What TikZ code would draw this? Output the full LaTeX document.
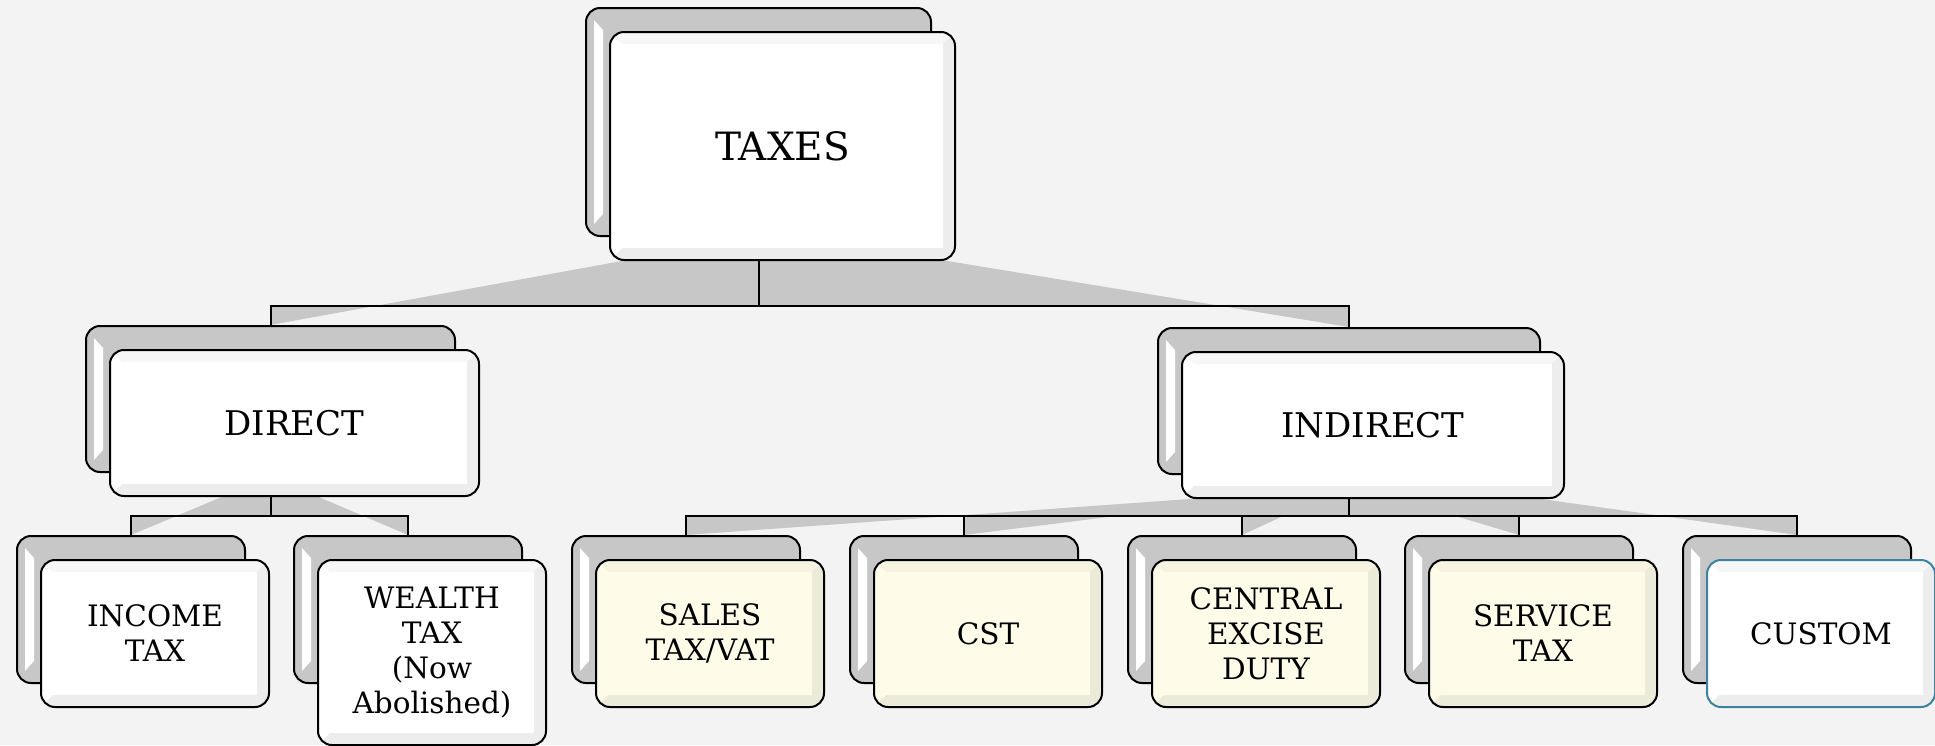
\documentclass[tikz,border=0pt]{standalone}
\usepackage{fontspec}
\setmainfont{DejaVu Serif}
\usepackage{tikz}
\usetikzlibrary{positioning, calc, backgrounds}

\definecolor{paper}{RGB}{243,243,243}
\definecolor{cream}{RGB}{254,252,233}
\definecolor{custedge}{RGB}{60,130,158}
\tikzstyle{link}=[line width=2pt, color=black]
\tikzstyle{wedgefill}=[fill=black!22]

\begin{document}
\begin{tikzpicture}[x=1pt, y=-1pt,
  backbox/.style={rectangle, rounded corners=14pt, draw=black, line width=2pt,
                  fill=black!22, anchor=north west, inner sep=0pt,
                  path picture={
                    \fill[white, sharp corners]
                      ([shift={(8pt,-12pt)}]path picture bounding box.north west) --
                      ([shift={(17pt,-22pt)}]path picture bounding box.north west) --
                      ([shift={(17pt,22pt)}]path picture bounding box.south west) --
                      ([shift={(8pt,12pt)}]path picture bounding box.south west) -- cycle;
                  }},
  frontbox/.style={rectangle, rounded corners=14pt, draw=black, line width=2pt,
                   fill=white, align=center, inner sep=0pt,
                   path picture={
                     \fill[black, opacity=.07, sharp corners]
                       (path picture bounding box.south west) --
                       (path picture bounding box.south east) --
                       (path picture bounding box.north east) --
                       ([shift={(-12pt,-12pt)}]path picture bounding box.north east) --
                       ([shift={(-12pt,12pt)}]path picture bounding box.south east) --
                       ([shift={(12pt,12pt)}]path picture bounding box.south west) -- cycle;
                     \fill[black, opacity=.03, sharp corners]
                       (path picture bounding box.north west) --
                       (path picture bounding box.north east) --
                       ([shift={(-12pt,-12pt)}]path picture bounding box.north east) --
                       ([shift={(12pt,-12pt)}]path picture bounding box.north west) -- cycle;
                   }},
  lvlone/.style={minimum width=345pt, minimum height=228pt,
                 font=\fontsize{39}{46}\selectfont},
  lvltwo/.style={minimum height=146pt, font=\fontsize{34}{40}\selectfont},
  leaf/.style={minimum width=228pt, minimum height=147pt,
               font=\fontsize{29.5}{35}\selectfont}
]
\useasboundingbox (0,0) rectangle (1935,745);

% Level 1
\node[backbox, lvlone] (taxes-bk) at (585,7) {};
\node[frontbox, lvlone, below right=24pt and 24pt of taxes-bk.north west] (taxes) {TAXES};

% Level 2
\node[backbox, lvltwo, minimum width=369pt] (direct-bk) at (85,325) {};
\node[frontbox, lvltwo, minimum width=369pt, below right=24pt and 24pt of direct-bk.north west] (direct) {DIRECT};
\node[backbox, lvltwo, minimum width=382pt] (indirect-bk) at (1157,327) {};
\node[frontbox, lvltwo, minimum width=382pt, below right=24pt and 24pt of indirect-bk.north west] (indirect) {INDIRECT};

% Level 3: direct taxes
\node[backbox, leaf] (income-bk) at (16,535) {};
\node[frontbox, leaf, below right=24pt and 24pt of income-bk.north west] (income) {INCOME\\TAX};
\node[backbox, leaf] (wealth-bk) at (293,535) {};
\node[frontbox, leaf, minimum height=185pt, below right=24pt and 24pt of wealth-bk.north west] (wealth) {WEALTH\\TAX\\(Now\\Abolished)};

% Level 3: indirect taxes
\node[backbox, leaf] (sales-bk) at (571,535) {};
\node[frontbox, leaf, fill=cream, below right=24pt and 24pt of sales-bk.north west] (sales) {SALES\\TAX/VAT};
\node[backbox, leaf] (cst-bk) at (849,535) {};
\node[frontbox, leaf, fill=cream, below right=24pt and 24pt of cst-bk.north west] (cst) {CST};
\node[backbox, leaf] (central-bk) at (1127,535) {};
\node[frontbox, leaf, fill=cream, below right=24pt and 24pt of central-bk.north west] (central) {CENTRAL\\EXCISE\\DUTY};
\node[backbox, leaf] (service-bk) at (1404,535) {};
\node[frontbox, leaf, fill=cream, below right=24pt and 24pt of service-bk.north west] (service) {SERVICE\\TAX};
\node[backbox, leaf] (custom-bk) at (1682,535) {};
\node[frontbox, leaf, draw=custedge, below right=24pt and 24pt of custom-bk.north west] (custom) {CUSTOM};

% Connectors behind the boxes
\begin{pgfonlayer}{background}
\fill[paper] (0,0) rectangle (1935,745);
\foreach \parent/\child/\k/\drop in {taxes/direct/.28/45, taxes/indirect/.32/45,
    direct/income/.35/19, direct/wealth/.35/19,
    indirect/sales/.24/17, indirect/cst/.25/17, indirect/central/.27/17,
    indirect/service/.29/17, indirect/custom/.43/17}
  \fill[wedgefill] (\child-bk.north) |- ($(\parent-bk |- \parent.south)+(0,\drop)$)
    -- (\parent-bk |- \parent.south)
    -- ($(\parent-bk |- \parent.south)!\k!(\child-bk |- \parent.south)$) -- cycle;
\foreach \parent/\child/\drop in {taxes/direct/45, taxes/indirect/45,
    direct/income/19, direct/wealth/19,
    indirect/sales/17, indirect/cst/17, indirect/central/17,
    indirect/service/17, indirect/custom/17}
  \draw[link] (\parent-bk |- \parent.south) -- ++(0,\drop) -| (\child-bk.north);
\end{pgfonlayer}
\end{tikzpicture}
\end{document}
